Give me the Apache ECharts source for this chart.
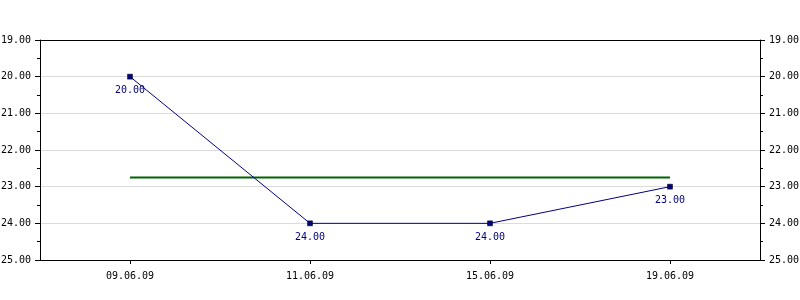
<!DOCTYPE html>
<html><head><meta charset="utf-8">
<script src="https://cdn.jsdelivr.net/npm/echarts@6/dist/echarts.min.js"></script>
<style>html,body{margin:0;padding:0;background:#fff}#c{width:800px;height:300px}</style>
</head><body><div id="c"></div>
<script>
const categories = ['09.06.09', '11.06.09', '15.06.09', '19.06.09'];
const values = [20, 24, 24, 23];
const average = [22.75, 22.75, 22.75, 22.75];
const yMin = 19, yMax = 25, yStep = 1;

const font = 'DejaVu Sans Mono';
function yAxis(pos) {
  return {
    type: 'value', position: pos, min: yMin, max: yMax, interval: yStep, inverse: true,
    axisLine: {show: true, lineStyle: {color: '#000', width: 1}},
    axisTick: {show: true, length: 5, lineStyle: {color: '#000'}},
    minorTick: {show: true, splitNumber: 2, length: 3, lineStyle: {color: '#000'}},
    splitLine: {show: pos === 'left', lineStyle: {color: '#dcdcdc', width: 1}},
    axisLabel: {color: '#000', fontFamily: font, fontSize: 10, margin: 9,
      formatter: v => v.toFixed(2)}
  };
}
const chart = echarts.init(document.getElementById('c'), null, {renderer: 'canvas'});
chart.setOption({
  animation: false,
  grid: {left: 40, right: 40, top: 40, bottom: 40, containLabel: false, outerBoundsMode: 'none'},
  xAxis: [{
    type: 'category', data: categories, boundaryGap: true,
    axisLine: {show: true, onZero: false, lineStyle: {color: '#000'}},
    axisTick: {show: true, alignWithLabel: true, length: 4, lineStyle: {color: '#000'}},
    axisLabel: {color: '#000', fontFamily: font, fontSize: 10, margin: 11},
    splitLine: {show: false}
  }, {
    type: 'category', data: categories, position: 'top', boundaryGap: true,
    axisLine: {show: true, onZero: false, lineStyle: {color: '#000'}},
    axisTick: {show: false}, axisLabel: {show: false}, splitLine: {show: false}
  }],
  yAxis: [yAxis('left'), yAxis('right')],
  series: [
    {
      type: 'line', data: average, yAxisIndex: 0, symbol: 'none', silent: true,
      lineStyle: {color: '#006400', width: 2}, z: 2
    },
    {
      type: 'line', data: values, yAxisIndex: 0, symbol: 'rect', symbolSize: 5,
      lineStyle: {color: '#000080', width: 1},
      itemStyle: {color: '#000080', borderColor: '#000', borderWidth: 0.5},
      label: {show: true, position: 'bottom', distance: 6, color: '#000080', fontFamily: font, fontSize: 10,
        formatter: p => p.value.toFixed(2)},
      z: 3
    }
  ]
});
</script></body></html>
